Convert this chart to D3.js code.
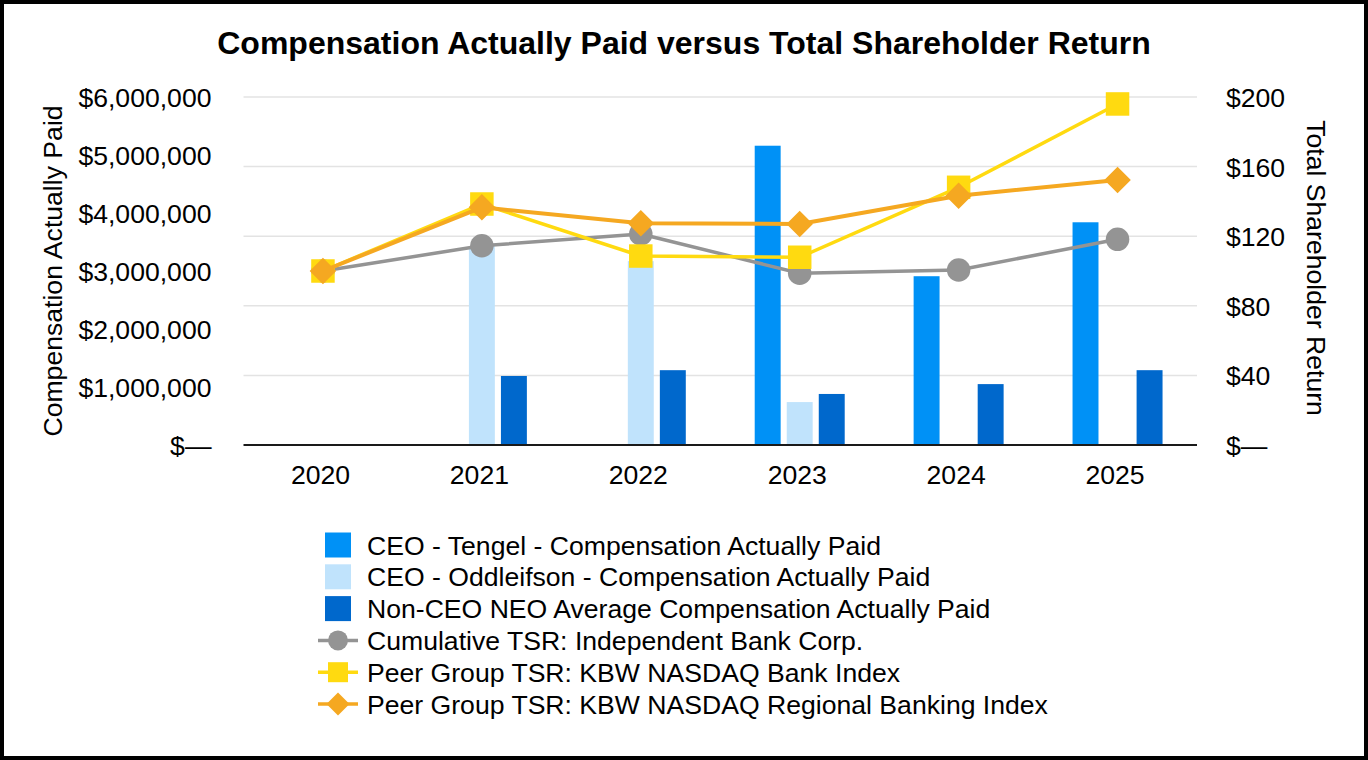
<!DOCTYPE html>
<html>
<head>
<meta charset="utf-8">
<script src="https://cdn.jsdelivr.net/npm/d3@7"></script>
<style>
  html, body { margin: 0; padding: 0; background: #fff; }
  svg { display: block; font-family: "Liberation Sans", Arial, sans-serif; }
</style>
</head>
<body>
<svg id="chart" width="1368" height="760"></svg>
<script>
// ---------- data ----------
const years = ["2020", "2021", "2022", "2023", "2024", "2025"];
const tengelCAP      = [null, null, null, 5160000, 2910000, 3840000];
const oddleifsonCAP  = [null, 3430000, 3170000, 740000, null, null];
const nonCeoNeoCAP   = [null, 1190000, 1290000, 880000, 1050000, 1290000];
const tsrCompany     = [100, 114.5, 121.3, 98.7, 100.6, 118.2];
const tsrKbwBank     = [100, 138.5, 108.6, 107.9, 148.1, 196.0];
const tsrKbwRegional = [100, 136.6, 127.4, 127.0, 143.3, 152.3];
const leftTicks  = [0, 1000000, 2000000, 3000000, 4000000, 5000000, 6000000];
const rightTicks = [0, 40, 80, 120, 160, 200];

const barSeries = [
  { key: "tengel", name: "CEO - Tengel - Compensation Actually Paid", values: tengelCAP, color: "#0091F6" },
  { key: "odd", name: "CEO - Oddleifson - Compensation Actually Paid", values: oddleifsonCAP, color: "#C0E3FC" },
  { key: "neo", name: "Non-CEO NEO Average Compensation Actually Paid", values: nonCeoNeoCAP, color: "#0068CC" }
];
const lineSeries = [
  { key: "co", name: "Cumulative TSR: Independent Bank Corp.", values: tsrCompany, color: "#949494", marker: "circle", width: 3.5 },
  { key: "bank", name: "Peer Group TSR: KBW NASDAQ Bank Index", values: tsrKbwBank, color: "#FFDA10", marker: "square", width: 3.5 },
  { key: "reg", name: "Peer Group TSR: KBW NASDAQ Regional Banking Index", values: tsrKbwRegional, color: "#F5A821", marker: "diamond", width: 4 }
];

// ---------- layout ----------
const svg = d3.select("#chart");
const W = 1368, H = 760;
const FS = 26.6;
const plot = { left: 243.5, right: 1197, top: 97, bottom: 445 };

svg.append("rect").attr("width", W).attr("height", H).attr("fill", "#fff");

const x0 = d3.scaleBand().domain(years).range([plot.left, plot.right]).padding(0);
const x1 = d3.scaleBand().domain(barSeries.map(d => d.key)).range([-45, 45]).paddingInner(0.19).paddingOuter(0);
const yL = d3.scaleLinear().domain([0, 6000000]).range([plot.bottom, plot.top]);
const yR = d3.scaleLinear().domain([0, 200]).range([plot.bottom, plot.top]);
const cx = yr => x0(yr) + x0.bandwidth() / 2;

// gridlines (right-axis ticks)
svg.append("g").selectAll("line").data(rightTicks.filter(t => t > 0)).join("line")
  .attr("x1", plot.left).attr("x2", plot.right)
  .attr("y1", d => yR(d)).attr("y2", d => yR(d))
  .attr("stroke", "#E3E3E3").attr("stroke-width", 1.5);

// title
svg.append("text").attr("x", 684).attr("y", 54).attr("text-anchor", "middle")
  .attr("font-size", 32).attr("font-weight", "bold").attr("fill", "#000")
  .text("Compensation Actually Paid versus Total Shareholder Return");

// left axis
const fmtL = v => v === 0 ? "$—" : "$" + d3.format(",")(v);
const gL = svg.append("g").attr("transform", `translate(${plot.left},0)`)
  .call(d3.axisLeft(yL).tickValues(leftTicks).tickFormat(fmtL).tickSize(0).tickPadding(32));
gL.select(".domain").remove();
gL.selectAll("text").attr("font-size", FS).attr("fill", "#000")
  .attr("font-family", "Liberation Sans, Arial, sans-serif").attr("dy", "0.36em");

// right axis
const fmtR = v => v === 0 ? "$—" : "$" + v;
const gR = svg.append("g").attr("transform", `translate(${plot.right},0)`)
  .call(d3.axisRight(yR).tickValues(rightTicks).tickFormat(fmtR).tickSize(0).tickPadding(29));
gR.select(".domain").remove();
gR.selectAll("text").attr("font-size", FS).attr("fill", "#000")
  .attr("font-family", "Liberation Sans, Arial, sans-serif").attr("dy", "0.36em");

// bottom axis
const gB = svg.append("g").attr("transform", `translate(-2.5,${plot.bottom})`)
  .call(d3.axisBottom(x0).tickSize(0).tickPadding(20));
gB.select(".domain").remove();
gB.selectAll("text").attr("font-size", FS).attr("fill", "#000")
  .attr("font-family", "Liberation Sans, Arial, sans-serif");

// axis titles
svg.append("text").attr("transform", `translate(62,271) rotate(-90)`).attr("text-anchor", "middle")
  .attr("font-size", FS).attr("fill", "#000").text("Compensation Actually Paid");
svg.append("text").attr("transform", `translate(1307,268) rotate(90)`).attr("text-anchor", "middle")
  .attr("font-size", FS).attr("fill", "#000").text("Total Shareholder Return");

// bars
const barData = [];
barSeries.forEach(s => s.values.forEach((v, i) => { if (v != null) barData.push({ s, yr: years[i], v }); }));
svg.append("g").selectAll("rect").data(barData).join("rect")
  .attr("x", d => cx(d.yr) + x1(d.s.key))
  .attr("width", x1.bandwidth())
  .attr("y", d => yL(d.v))
  .attr("height", d => yL(0) - yL(d.v))
  .attr("fill", d => d.s.color);

// baseline
svg.append("line").attr("x1", plot.left).attr("x2", plot.right)
  .attr("y1", plot.bottom).attr("y2", plot.bottom).attr("stroke", "#1a1a1a").attr("stroke-width", 2);

// markers
function drawMarker(g, type, x, y, color, size) {
  if (type === "circle") {
    g.append("circle").attr("cx", x).attr("cy", y).attr("r", size / 2).attr("fill", color);
  } else if (type === "square") {
    g.append("rect").attr("x", x - size / 2).attr("y", y - size / 2).attr("width", size).attr("height", size).attr("fill", color);
  } else {
    const h = size / 2 + 1.5;
    g.append("path").attr("d", `M${x},${y - h}L${x + h},${y}L${x},${y + h}L${x - h},${y}Z`).attr("fill", color);
  }
}

const line = d3.line().x((d, i) => cx(years[i])).y(d => yR(d));
lineSeries.forEach(s => {
  const g = svg.append("g");
  g.append("path").attr("d", line(s.values)).attr("fill", "none")
    .attr("stroke", s.color).attr("stroke-width", s.width).attr("stroke-linejoin", "round");
  s.values.forEach((v, i) => drawMarker(g, s.marker, cx(years[i]), yR(v), s.color, 23.5));
});

// legend
const legend = svg.append("g");
const legX = 325, legText = 367, legY0 = 545, legStep = 31.8;
barSeries.forEach((s, i) => {
  const y = legY0 + i * legStep;
  legend.append("rect").attr("x", legX).attr("y", y - 12.5).attr("width", 26).attr("height", 25).attr("fill", s.color);
  legend.append("text").attr("x", legText).attr("y", y + 9.5).attr("font-size", FS).attr("fill", "#000").text(s.name);
});
lineSeries.forEach((s, j) => {
  const i = j + 3;
  const y = legY0 + i * legStep;
  legend.append("line").attr("x1", 318).attr("x2", 358).attr("y1", y).attr("y2", y)
    .attr("stroke", s.color).attr("stroke-width", 3.5);
  drawMarker(legend, s.marker, 338, y, s.color, 20);
  legend.append("text").attr("x", legText).attr("y", y + 9.5).attr("font-size", FS).attr("fill", "#000").text(s.name);
});

// frame
svg.append("rect").attr("x", 2).attr("y", 2).attr("width", W - 4).attr("height", H - 4)
  .attr("fill", "none").attr("stroke", "#000").attr("stroke-width", 4);
</script>
</body>
</html>
